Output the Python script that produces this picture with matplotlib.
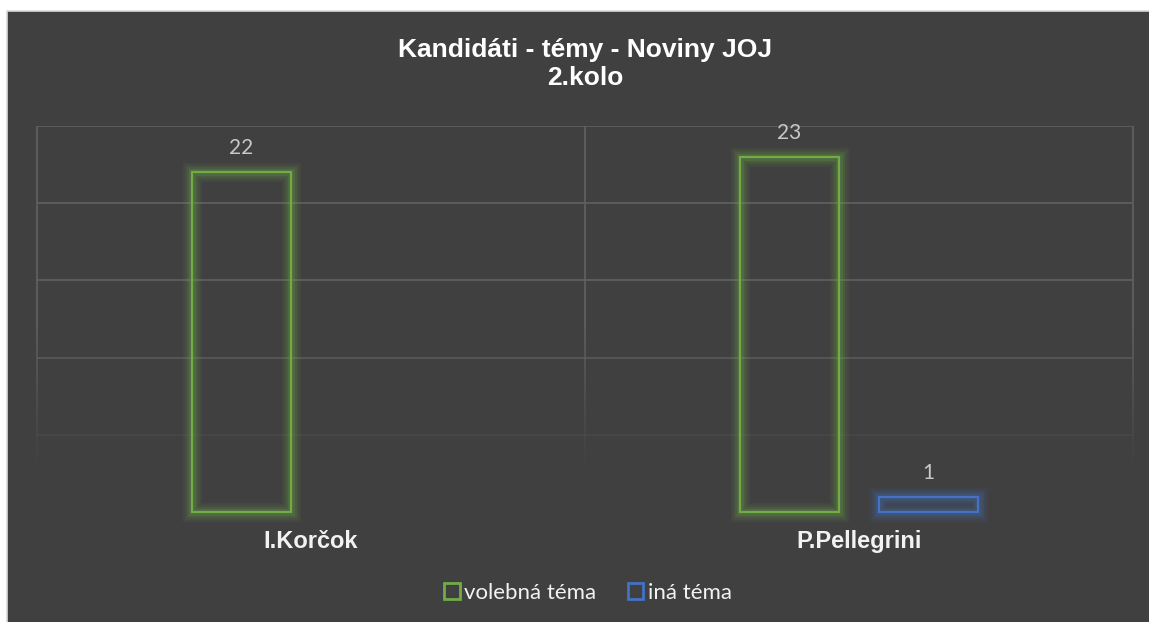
import numpy as np
import matplotlib
matplotlib.use("Agg")
import matplotlib.pyplot as plt
import matplotlib.colors as mcolors
from matplotlib.patches import Patch, Rectangle
from matplotlib.collections import LineCollection

# ---- data ----
title = "Kandidáti - témy - Noviny JOJ\n2.kolo"
categories = ["I.Korčok", "P.Pellegrini"]
series_names = ["volebná téma", "iná téma"]
volebna = [22, 23]
ina = [None, 1]

# ---- style ----
BG = "#404040"
GREEN = "#70AD47"
BLUE = "#4472C4"
GRID = "#5E5E5E"

W, H, DPI = 1149, 622, 100
fig = plt.figure(figsize=(W / DPI, H / DPI), dpi=DPI, facecolor="white")

# dark chart area with light border (right/bottom run off the image)
fig.patches.append(Rectangle((6.5 / W, -0.05), 1.1, 1.05 - 10.5 / H,
                             transform=fig.transFigure, facecolor=BG,
                             edgecolor="#D9D9D9", linewidth=1.2, zorder=-10))

ax = fig.add_axes([37 / W, 1 - 512 / H, (1133 - 37) / W, (512 - 126) / H])
ax.set_facecolor("none")
ax.set_xlim(-0.5, 1.5)
ax.set_ylim(0, 25)
for s in ax.spines.values():
    s.set_visible(False)
ax.set_yticks([])

x = np.arange(len(categories))
bw = 0.181
off = 0.127


def alpha_of(v):
    return float(np.clip((v - 2.8) / (12 - 2.8), 0, 1))


# horizontal gridlines fading downward
for v in [5, 10, 15, 20, 25]:
    ax.axhline(v, color=GRID, lw=1.3, alpha=alpha_of(v), zorder=0)

# vertical category boundary lines, fading downward
segs, cols = [], []
ys = np.linspace(0, 25, 200)
base = mcolors.to_rgb(GRID)
for xb in [-0.5, 0.5, 1.5]:
    for y0, y1 in zip(ys[:-1], ys[1:]):
        segs.append([(xb, y0), (xb, y1)])
        cols.append((*base, alpha_of((y0 + y1) / 2)))
lc = LineCollection(segs, colors=cols, linewidths=1.3, zorder=0, clip_on=False)
ax.add_collection(lc)


def draw_series(xs, vals, color, label):
    xs2 = [xx for xx, v in zip(xs, vals) if v is not None]
    v2 = [v for v in vals if v is not None]
    # glow
    for lw, a in [(14, 0.07), (11, 0.09), (8, 0.12), (5, 0.17)]:
        gb = ax.bar(xs2, v2, bw, facecolor="none", edgecolor=color,
                    linewidth=lw, alpha=a, zorder=2)
        for p in gb:
            p.set_clip_on(False)
    bars = ax.bar(xs2, v2, bw, facecolor="none", edgecolor=color,
                  linewidth=1.6, zorder=3, label=label)
    for p in bars:
        p.set_clip_on(False)
    ax.bar_label(bars, padding=10, color="#C8C8C8", fontsize=15,
                 family="Lato")
    return bars


draw_series(x - off, volebna, GREEN, series_names[0])
draw_series(x + off, ina, BLUE, series_names[1])

ax.set_xticks(x)
ax.set_xticklabels(categories, fontsize=17, fontweight="bold",
                   color="#F2F2F2", family="Liberation Sans")
ax.tick_params(axis="x", length=0, pad=13)

fig.text(585 / W, 1 - 64 / H, title, ha="center", va="center",
         fontsize=19, fontweight="bold", color="white",
         family="Liberation Sans", linespacing=1.25)

handles = [Patch(facecolor="none", edgecolor=GREEN, linewidth=2),
           Patch(facecolor="none", edgecolor=BLUE, linewidth=2)]
leg = fig.legend(handles, series_names, loc="center",
                 bbox_to_anchor=(588 / W, 1 - 593 / H), ncol=2, frameon=False,
                 handlelength=0.7, handleheight=0.7, handletextpad=0.2,
                 columnspacing=1.4, prop={"family": "Lato", "size": 16})
for t in leg.get_texts():
    t.set_color("#F2F2F2")

fig.savefig("out.png", dpi=DPI, facecolor="white")
